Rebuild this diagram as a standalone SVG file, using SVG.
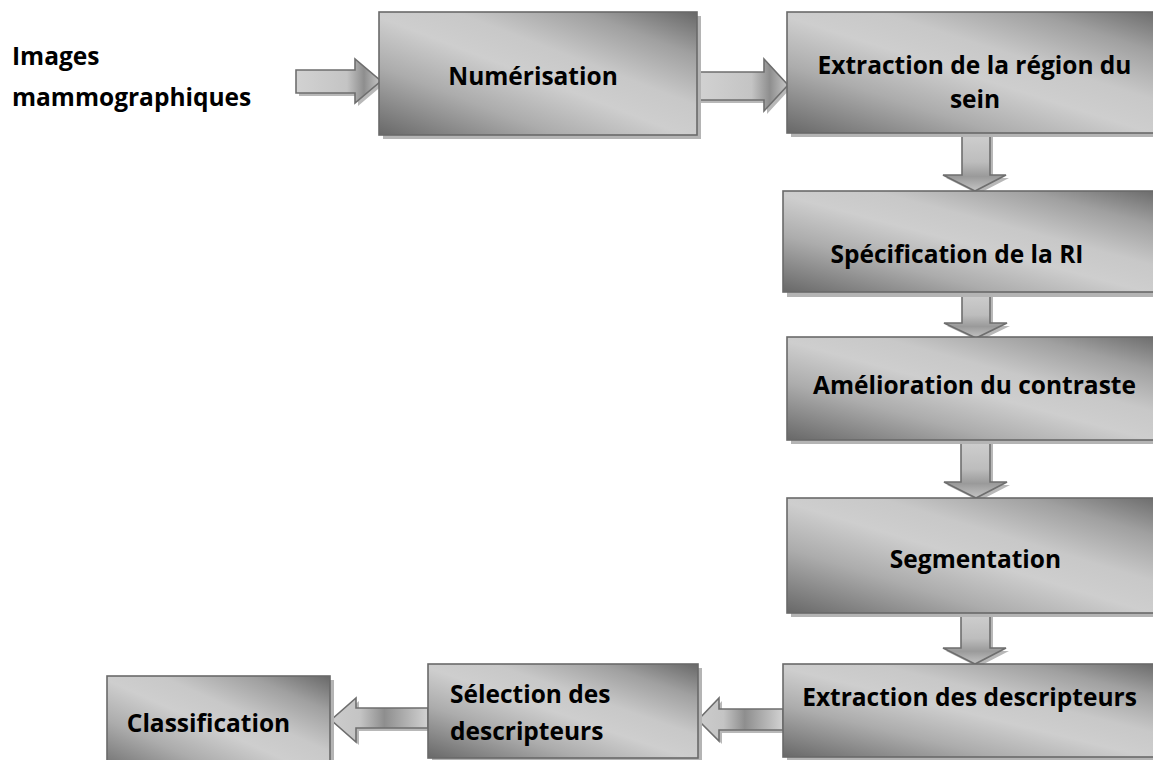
<svg xmlns="http://www.w3.org/2000/svg" width="1153" height="760" viewBox="0 0 1153 760">
<defs>
<linearGradient id="boxg" x1="0" y1="1" x2="1" y2="0">
<stop offset="0" stop-color="#686868"/>
<stop offset="0.28" stop-color="#acacac"/>
<stop offset="0.48" stop-color="#cecece"/>
<stop offset="0.62" stop-color="#c8c8c8"/>
<stop offset="0.82" stop-color="#a0a0a0"/>
<stop offset="1" stop-color="#686868"/>
</linearGradient>
<linearGradient id="arrh" x1="0" y1="0" x2="1" y2="0">
<stop offset="0" stop-color="#d2d2d2"/>
<stop offset="0.6" stop-color="#c4c4c4"/>
<stop offset="0.8" stop-color="#8e8e8e"/>
<stop offset="1" stop-color="#c8c8c8"/>
</linearGradient>
<linearGradient id="arrl" x1="1" y1="0" x2="0" y2="0">
<stop offset="0" stop-color="#d2d2d2"/>
<stop offset="0.45" stop-color="#8e8e8e"/>
<stop offset="0.7" stop-color="#c4c4c4"/>
<stop offset="1" stop-color="#cccccc"/>
</linearGradient>
<linearGradient id="arrv" x1="0" y1="0" x2="0" y2="1">
<stop offset="0" stop-color="#cfcfcf"/>
<stop offset="0.5" stop-color="#bdbdbd"/>
<stop offset="0.75" stop-color="#9a9a9a"/>
<stop offset="1" stop-color="#c4c4c4"/>
</linearGradient>
</defs>
<style>
.box{fill:url(#boxg);stroke:#6a6a6a;stroke-width:1.6}
.sh{fill:#b4b4b4}
.arr{stroke:#6e6e6e;stroke-width:1.6;stroke-linejoin:miter}
.ash{fill:#b8b8b8}
text{font-family:"Open Sans","Noto Sans","Liberation Sans",sans-serif;font-weight:700;font-size:24.5px;fill:#000}
.c{text-anchor:middle}
</style>

<g id="connectors">
<polygon class="ash" points="299,73 358,73 358,62 384,84 358,106 358,96 299,96"/>
<polygon class="arr" fill="url(#arrh)" points="296,70 355,70 355,59 381,81 355,103 355,93 296,93"/>
<polygon class="ash" points="700,75 767,75 767,62 791,88 767,114 767,103 700,103"/>
<polygon class="arr" fill="url(#arrh)" points="697,72 764,72 764,59 788,85 764,111 764,100 697,100"/>
<polygon class="ash" points="965,136 993,136 993,178 1009,178 978,194 946,178 965,178"/>
<polygon class="arr" fill="url(#arrv)" points="962,133 990,133 990,175 1006,175 975,191 943,175 962,175"/>
<polygon class="ash" points="965,295 993,295 993,326 1010,326 979,341 947,326 965,326"/>
<polygon class="arr" fill="url(#arrv)" points="962,292 990,292 990,323 1007,323 976,338 944,323 962,323"/>
<polygon class="ash" points="964,443 993,443 993,485 1010,485 979,501 947,485 964,485"/>
<polygon class="arr" fill="url(#arrv)" points="961,440 990,440 990,482 1007,482 976,498 944,482 961,482"/>
<polygon class="ash" points="964,616 993,616 993,651 1009,651 978,667 946,651 964,651"/>
<polygon class="arr" fill="url(#arrv)" points="961,613 990,613 990,648 1006,648 975,664 943,648 961,648"/>
<polygon class="ash" points="786,712 722,712 722,701 701,723 722,744 722,733 786,733"/>
<polygon class="arr" fill="url(#arrl)" points="783,709 719,709 719,698 698,720 719,741 719,730 783,730"/>
<polygon class="ash" points="431,711 359,711 359,701 334,723 359,745 359,731 431,731"/>
<polygon class="arr" fill="url(#arrl)" points="428,708 356,708 356,698 331,720 356,742 356,728 428,728"/>
</g>

<g id="input">
<text x="12" y="65">Images</text>
<text x="12" y="106">mammographiques</text>
</g>

<g id="numerisation">
<rect class="sh" x="383" y="16" width="318" height="123"/>
<rect class="box" x="379" y="12" width="318" height="123"/>
<text class="c" x="533" y="85">Numérisation</text>
</g>

<g id="extraction-region">
<rect class="sh" x="791" y="16" width="380" height="121"/>
<rect class="box" x="787" y="12" width="380" height="121"/>
<text class="c" x="974.5" y="74">Extraction de la région du</text>
<text class="c" x="975" y="108">sein</text>
</g>

<g id="specification">
<rect class="sh" x="787" y="195" width="380" height="102"/>
<rect class="box" x="783" y="191" width="380" height="101"/>
<text class="c" x="957" y="263">Spécification de la RI</text>
</g>

<g id="amelioration">
<rect class="sh" x="791" y="341" width="380" height="103"/>
<rect class="box" x="787" y="337" width="380" height="103"/>
<text class="c" x="974.5" y="394">Amélioration du contraste</text>
</g>

<g id="segmentation">
<rect class="sh" x="791" y="502" width="380" height="115"/>
<rect class="box" x="787" y="498" width="380" height="115"/>
<text class="c" x="975.5" y="568">Segmentation</text>
</g>

<g id="extraction-descripteurs">
<rect class="sh" x="787" y="668" width="380" height="94"/>
<rect class="box" x="783" y="664" width="380" height="93"/>
<text class="c" x="969.5" y="706">Extraction des descripteurs</text>
</g>

<g id="selection">
<rect class="sh" x="432" y="668" width="270" height="94"/>
<rect class="box" x="428" y="664" width="270" height="94"/>
<text x="450" y="703">Sélection des</text>
<text x="450" y="740">descripteurs</text>
</g>

<g id="classification">
<rect class="sh" x="111" y="680" width="223" height="100"/>
<rect class="box" x="107" y="676" width="223" height="100"/>
<text class="c" x="208.5" y="732">Classification</text>
</g>
</svg>
